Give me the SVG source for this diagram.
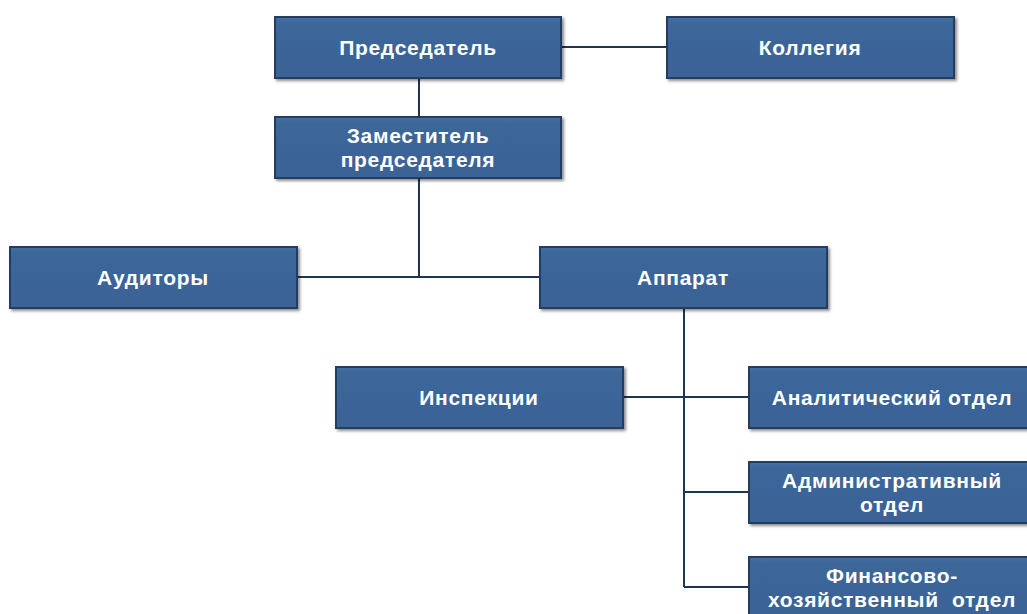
<svg xmlns="http://www.w3.org/2000/svg" width="1027" height="614" viewBox="0 0 1027 614">
<defs>
<filter id="sh" x="-5%" y="-10%" width="115%" height="130%">
<feDropShadow dx="2" dy="2" stdDeviation="1.5" flood-color="#000" flood-opacity="0.45"/>
</filter>
<linearGradient id="g" x1="0" y1="0" x2="0" y2="1">
<stop offset="0" stop-color="#4571a6"/>
<stop offset="0.1" stop-color="#3c6699"/>
<stop offset="1" stop-color="#3a6396"/>
</linearGradient>
</defs>
<style>
.box{fill:url(#g);stroke:#223c5e;stroke-width:2;filter:url(#sh)}
.t{font-family:"Liberation Sans",Arial,sans-serif;font-weight:bold;font-size:21px;letter-spacing:0.7px;fill:#ffffff;text-anchor:middle}
.c{stroke:#1f3652;stroke-width:2;fill:none}
</style>
<rect width="1027" height="614" fill="#ffffff"/>
<g id="connectors">
<line class="c" x1="561" y1="47" x2="667" y2="47"/>
<line class="c" x1="419" y1="78" x2="419" y2="117"/>
<line class="c" x1="419" y1="178" x2="419" y2="277"/>
<line class="c" x1="297" y1="277" x2="540" y2="277"/>
<line class="c" x1="684" y1="308" x2="684" y2="587"/>
<line class="c" x1="623" y1="397" x2="749" y2="397"/>
<line class="c" x1="684" y1="492" x2="749" y2="492"/>
<line class="c" x1="684" y1="587" x2="749" y2="587"/>
</g>
<g id="predsedatel"><rect class="box" x="275" y="17" width="286" height="61"/><text class="t" x="418" y="55">Председатель</text></g>
<g id="kollegiya"><rect class="box" x="667" y="17" width="287" height="61"/><text class="t" x="810" y="55">Коллегия</text></g>
<g id="zamestitel"><rect class="box" x="275" y="117" width="286" height="61"/><text class="t" x="418" y="143">Заместитель</text><text class="t" x="418" y="167">председателя</text></g>
<g id="auditory"><rect class="box" x="10" y="247" width="287" height="61"/><text class="t" x="153" y="285">Аудиторы</text></g>
<g id="apparat"><rect class="box" x="540" y="247" width="287" height="61"/><text class="t" x="683" y="285">Аппарат</text></g>
<g id="inspektsii"><rect class="box" x="336" y="367" width="287" height="61"/><text class="t" x="479" y="405">Инспекции</text></g>
<g id="analiticheskiy"><rect class="box" x="749" y="367" width="287" height="61"/><text class="t" x="892" y="405">Аналитический отдел</text></g>
<g id="administrativnyy"><rect class="box" x="749" y="462" width="287" height="61"/><text class="t" x="892" y="488">Административный</text><text class="t" x="892" y="512">отдел</text></g>
<g id="finansovo"><rect class="box" x="749" y="557" width="287" height="61"/><text class="t" x="892" y="583">Финансово-</text><text class="t" x="892" y="607" xml:space="preserve">хозяйственный  отдел</text></g>
</svg>
